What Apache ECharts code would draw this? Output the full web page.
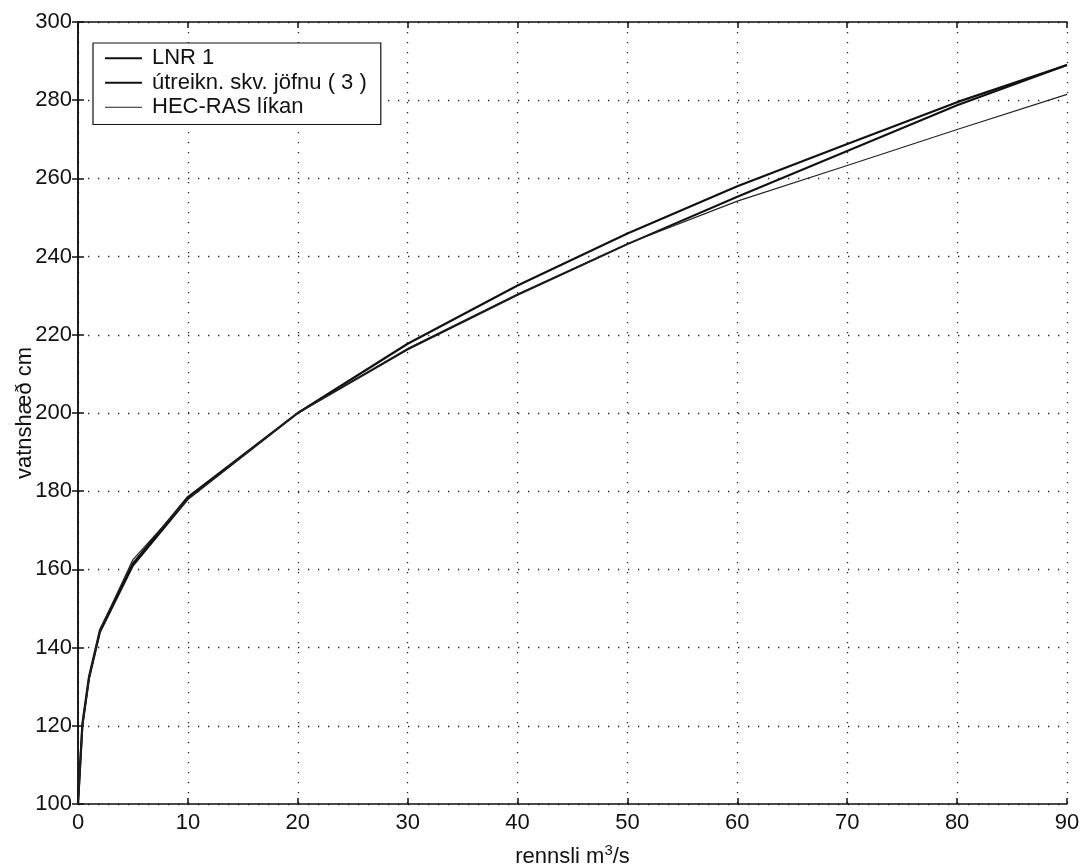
<!DOCTYPE html>
<html>
<head>
<meta charset="utf-8">
<script src="https://cdn.jsdelivr.net/npm/echarts@6/dist/echarts.min.js"></script>
<style>
html,body{margin:0;padding:0;background:#fff;}
#chart{width:1081px;height:865px;}
</style>
</head>
<body>
<div id="chart"></div>
<script>
// Discharge (m3/s)
var flow = [0, 0.4, 1, 2, 5, 10, 20, 30, 40, 50, 60, 70, 80, 90];
// Water level (cm)
var lnr1 = [100, 120.5, 132.5, 144.5, 161.5, 178.5, 200, 217.7, 232.6, 245.9, 258, 268.8, 279.5, 289];
var utreikn = [100, 120, 132, 144, 161, 178, 200, 216.3, 230.2, 243.2, 255.3, 267, 278.7, 289];
var hecras = [100, 120, 132, 144.5, 162.5, 178, 200, 216.5, 230.4, 243.3, 254.2, 263.3, 272.5, 281.5];
var seriesNames = ['LNR 1', 'útreikn. skv. jöfnu ( 3 )', 'HEC-RAS líkan'];
var xTicks = {min: 0, max: 90, interval: 10};
var yTicks = {min: 100, max: 300, interval: 20};

function pairs(xs, ys){ return xs.map(function(x,i){ return [x, ys[i]]; }); }

var font = 'Liberation Sans, Arial, Helvetica, sans-serif';
var ink = '#111';
var fs = 22;
var gridLine = {show: true, lineStyle: {color: '#222', width: 1.3, type: [1.3, 8.7]}};
var iconThick = 'path://M0,0L37,0L37,2L0,2Z';
var iconThin = 'path://M0,0L37,0L37,1.2L0,1.2Z';

var chart = echarts.init(document.getElementById('chart'), null, {renderer: 'canvas'});
chart.setOption({
  backgroundColor: '#fff',
  animation: false,
  textStyle: {fontFamily: font, color: ink},
  grid: {left: 78, right: 14, top: 22, bottom: 61, containLabel: false, outerBoundsMode: 'none'},
  legend: {
    left: 93, top: 43,
    orient: 'vertical',
    backgroundColor: '#fff',
    borderColor: ink, borderWidth: 1.2, borderRadius: 0,
    padding: [3, 14, 5, 12],
    itemGap: 0,
    itemWidth: 37, itemHeight: 14,
    textStyle: {fontSize: fs, color: ink, fontFamily: font, lineHeight: 24.5, padding: [0, 0, 0, 5]},
    data: [
      {name: seriesNames[0], icon: iconThick},
      {name: seriesNames[1], icon: iconThick},
      {name: seriesNames[2], icon: iconThin}
    ]
  },
  xAxis: [{
    type: 'value', min: xTicks.min, max: xTicks.max, interval: xTicks.interval,
    name: '{a|rennsli m}{s|3}{a|/s}', nameLocation: 'middle', nameGap: 39, nameMoveOverlap: false,
    nameTextStyle: {rich: {
      a: {fontSize: fs, color: ink, fontFamily: font, verticalAlign: 'bottom'},
      s: {fontSize: 15, color: ink, fontFamily: font, verticalAlign: 'top', padding: [0, 0, 10, 0]}
    }},
    axisLine: {show: true, lineStyle: {color: ink, width: 1.5}},
    axisTick: {show: true, inside: true, length: 6, lineStyle: {color: ink, width: 1.5}},
    axisLabel: {fontSize: fs, color: ink, fontFamily: font, margin: 8},
    splitLine: gridLine
  }, {
    type: 'value', position: 'top', min: xTicks.min, max: xTicks.max, interval: xTicks.interval,
    axisLine: {show: true, lineStyle: {color: ink, width: 1.5}},
    axisTick: {show: true, inside: true, length: 6, lineStyle: {color: ink, width: 1.5}},
    axisLabel: {show: false}, splitLine: {show: false}
  }],
  yAxis: [{
    type: 'value', min: yTicks.min, max: yTicks.max, interval: yTicks.interval,
    name: 'vatnshæð cm', nameLocation: 'middle', nameGap: 42, nameMoveOverlap: false,
    nameTextStyle: {fontSize: fs, color: ink, fontFamily: font},
    axisLine: {show: true, lineStyle: {color: ink, width: 1.5}},
    axisTick: {show: true, inside: true, length: 6, lineStyle: {color: ink, width: 1.5}},
    axisLabel: {fontSize: fs, color: ink, fontFamily: font, margin: 6},
    splitLine: gridLine
  }, {
    type: 'value', position: 'right', min: yTicks.min, max: yTicks.max, interval: yTicks.interval,
    axisLine: {show: true, lineStyle: {color: ink, width: 1.5}},
    axisTick: {show: true, inside: true, length: 6, lineStyle: {color: ink, width: 1.5}},
    axisLabel: {show: false}, splitLine: {show: false}
  }],
  series: [
    {name: seriesNames[0], type: 'line', data: pairs(flow, lnr1), symbol: 'none', color: ink,
     lineStyle: {color: ink, width: 2.2}, z: 3},
    {name: seriesNames[1], type: 'line', data: pairs(flow, utreikn), symbol: 'none', color: ink,
     lineStyle: {color: ink, width: 2}, z: 3},
    {name: seriesNames[2], type: 'line', data: pairs(flow, hecras), symbol: 'none', color: '#222',
     lineStyle: {color: '#222', width: 1.2}, z: 3}
  ]
});
</script>
</body>
</html>
